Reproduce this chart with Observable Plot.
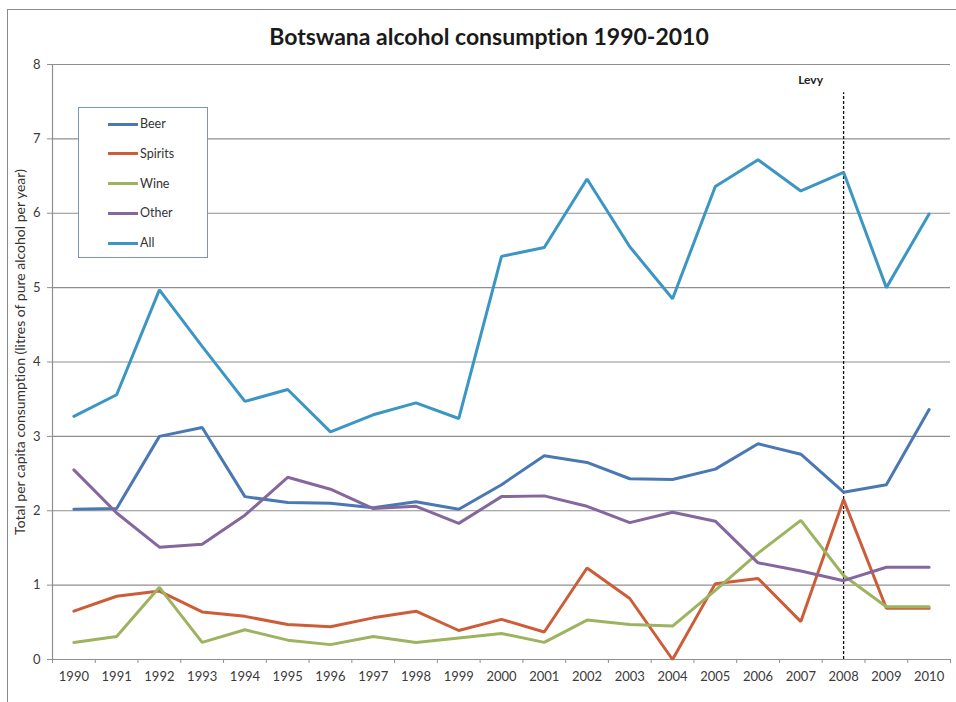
<!DOCTYPE html>
<html><head><meta charset="utf-8">
<script src="https://cdn.jsdelivr.net/npm/d3@7"></script>
<script src="https://cdn.jsdelivr.net/npm/@observablehq/plot@0.6"></script>
<style>
body{margin:0;background:#fff;font-family:Lato,sans-serif;font-variant-ligatures:none;}
#wrap{position:relative;width:956px;height:702px;overflow:hidden;background:#fff;}
#chart{position:absolute;left:0;top:0;}
#chart svg text{font-variant-ligatures:none;}
#frame{position:absolute;left:7px;top:9px;width:1000px;height:800px;border-top:1.5px solid #8a8a8a;border-left:1.5px solid #8a8a8a;pointer-events:none;}
#title{position:absolute;left:0;width:978px;top:22px;text-align:center;font-weight:bold;font-size:23px;line-height:28px;color:#1a1a1a;}
#legend{position:absolute;left:78px;top:107px;width:128px;height:149px;border:1px solid #7b96b9;background:#fff;}
.li{position:absolute;left:0;height:20px;width:128px;}
.li .sw{position:absolute;left:29px;top:8.5px;width:30px;height:3px;}
.li .lt{position:absolute;left:61px;top:1px;font-size:12.5px;line-height:18px;color:#333;}
</style>
</head><body>
<div id="wrap">
  <div id="chart"></div>
  <div id="frame"></div>
  <div id="title"></div>
  <div id="legend"></div>
</div>
<script>
const titleText = "Botswana alcohol consumption 1990-2010";
const yLabel = "Total per capita consumption (litres of pure alcohol per year)";
const years = [1990,1991,1992,1993,1994,1995,1996,1997,1998,1999,2000,2001,2002,2003,2004,2005,2006,2007,2008,2009,2010];
const seriesNames = ["Beer","Spirits","Wine","Other","All"];
const seriesColors = ["#4a78b2","#cd5d38","#9db35f","#85679e","#3b96c3"];
const beer    = [2.02,2.03,3.00,3.12,2.19,2.11,2.10,2.04,2.12,2.02,2.35,2.74,2.65,2.43,2.42,2.56,2.90,2.76,2.25,2.35,3.36];
const spirits = [0.65,0.85,0.92,0.64,0.58,0.47,0.44,0.56,0.65,0.39,0.54,0.37,1.23,0.82,0.00,1.02,1.09,0.51,2.15,0.69,0.69];
const wine    = [0.23,0.31,0.97,0.23,0.40,0.26,0.20,0.31,0.23,0.29,0.35,0.23,0.53,0.47,0.45,0.93,1.43,1.87,1.13,0.71,0.71];
const other   = [2.55,1.97,1.51,1.55,1.94,2.45,2.29,2.03,2.06,1.83,2.19,2.20,2.06,1.84,1.98,1.86,1.30,1.19,1.06,1.24,1.24];
const all     = [3.27,3.56,4.97,4.21,3.47,3.63,3.06,3.29,3.45,3.24,5.42,5.54,6.46,5.55,4.85,6.36,6.72,6.30,6.55,5.00,5.99];
const yTicks = [0,1,2,3,4,5,6,7,8];
const levy = [{year: 2008, label: "Levy", top: 7.62, labelY: 7.79}];

const seriesValues = [beer, spirits, wine, other, all];
const data = [];
seriesNames.forEach((s, i) => years.forEach((yr, j) => data.push({series: s, year: yr, value: seriesValues[i][j]})));

const xDomain = [years[0] - 0.5, years[years.length - 1] + 0.5];
const boundaries = [...years.map(y => y - 0.5), years[years.length - 1] + 0.5];

document.getElementById("title").textContent = titleText;
const leg = document.getElementById("legend");
seriesNames.forEach((s, i) => {
  const row = document.createElement("div");
  row.className = "li";
  row.style.top = (6 + i * 29.8) + "px";
  row.innerHTML = `<div class="sw" style="background:${seriesColors[i]}"></div><div class="lt">${s}</div>`;
  leg.appendChild(row);
});

const gridColor = "#8f8f8f";
const chart = Plot.plot({
  width: 956,
  height: 702,
  marginLeft: 52,
  marginRight: 6,
  marginTop: 64,
  marginBottom: 43,
  style: {fontFamily: "Lato, sans-serif", fontSize: "13px", color: "#3a3a3a", background: "transparent"},
  x: {type: "linear", domain: xDomain},
  y: {domain: [0, 8]},
  color: {domain: seriesNames, range: seriesColors},
  marks: [
    Plot.gridY(yTicks.filter(t => t > 0), {stroke: gridColor, strokeOpacity: 1, strokeWidth: 1.2}),
    Plot.ruleX([xDomain[0]], {stroke: gridColor, strokeWidth: 1.2}),
    Plot.ruleY([0], {stroke: gridColor, strokeWidth: 1.2}),
    Plot.axisY({ticks: yTicks, tickSize: 5, tickPadding: 7, label: null, stroke: gridColor, tickFormat: d => String(d)}),
    Plot.axisX({ticks: years, tickSize: 0, tickPadding: 12, label: null, tickFormat: d => String(d)}),
    Plot.axisX({ticks: boundaries, tickSize: 4, tickFormat: () => "", label: null, stroke: gridColor}),
    Plot.text([yLabel], {frameAnchor: "left", textAnchor: "middle", rotate: -90, dx: -32, dy: -10, fontSize: 14, fill: "#333"}),
    Plot.ruleX(levy, {x: "year", y1: 0, y2: "top", stroke: "#111", strokeWidth: 1.3, strokeDasharray: "3,2"}),
    Plot.text(levy, {x: "year", y: "labelY", text: "label", dx: -33, fontWeight: "bold", fontSize: 12, fill: "#222"}),
    Plot.lineY(data, {x: "year", y: "value", z: "series", stroke: "series", strokeWidth: 3, strokeLinejoin: "miter", strokeLinecap: "round"})
  ]
});
document.getElementById("chart").appendChild(chart);
</script>
</body></html>
